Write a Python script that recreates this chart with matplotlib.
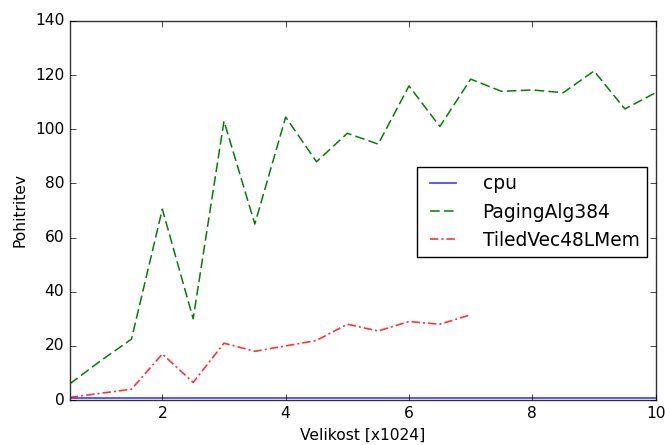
import matplotlib
matplotlib.use("Agg")
import matplotlib.pyplot as plt

velikost = [0.5, 1.0, 1.5, 2.0, 2.5, 3.0, 3.5, 4.0, 4.5, 5.0,
            5.5, 6.0, 6.5, 7.0, 7.5, 8.0, 8.5, 9.0, 9.5, 10.0]
cpu = [0.8] * len(velikost)
paging = [6, 14.5, 22.5, 70.5, 30, 103, 65, 104.5, 88, 98.5,
          94.5, 116, 101, 118.5, 114, 114.5, 113.5, 121.5, 107.5, 113.5]
tiled_x = velikost[:14]
tiled = [1, 2.5, 4, 17, 6.5, 21, 18, 20, 22, 28, 25.5, 29, 28, 31.5]

plt.style.use("classic")
plt.rcParams["font.size"] = 11.2
fig = plt.figure(figsize=(6.65, 4.45), dpi=100, facecolor="white")
ax = fig.add_axes([0.105, 0.101, 0.881, 0.852])

ax.plot(velikost, cpu, "b-", lw=1.3, alpha=0.7, label="cpu")
ax.plot(velikost, paging, "g--", lw=1.1, dashes=(7, 3), label="PagingAlg384")
ax.plot(tiled_x, tiled, "r-.", lw=1.2, alpha=0.8, dashes=(6, 2.2, 1.5, 2.2),
        label="TiledVec48LMem")

ax.set_xlim(0.5, 10)
ax.set_ylim(0, 140)
ax.set_xlabel("Velikost [x1024]")
ax.set_ylabel("Pohitritev")
for s in ax.spines.values():
    s.set_color("#333333")
ax.legend(loc="center right", bbox_to_anchor=(0.985, 0.496), fontsize="large",
          handlelength=2.0, handletextpad=1.1, borderaxespad=0)

fig.savefig("out.png", dpi=100, facecolor="white")
